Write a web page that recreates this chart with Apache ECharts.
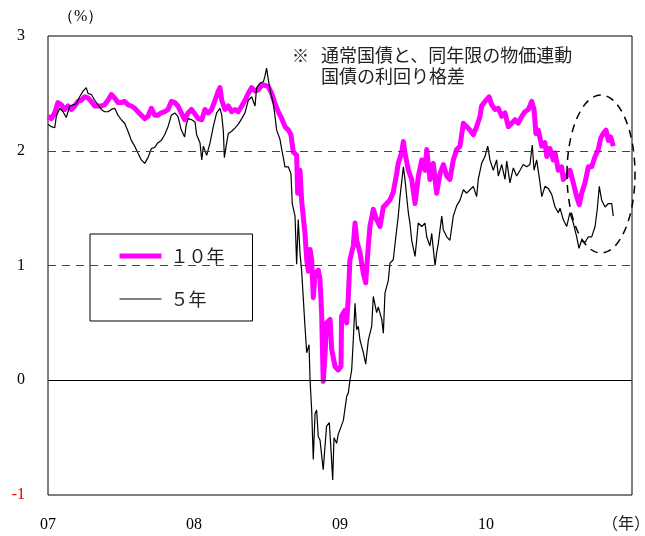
<!DOCTYPE html>
<html>
<head>
<meta charset="utf-8">
<script src="https://cdn.jsdelivr.net/npm/echarts@6/dist/echarts.min.js"></script>
<style>html,body{margin:0;padding:0;background:#fff}#c{width:645px;height:536px}</style>
</head>
<body>
<div id="c"></div>
<script>
// x values are fractional years (2007.0 = start of 2007)
const seriesNames = ['１０年', '５年'];
const yearLabels = ['07', '08', '09', '10'];

const t10 = [2007.000,2007.023,2007.046,2007.068,2007.091,2007.114,2007.137,2007.160,2007.183,2007.205,2007.228,2007.251,2007.274,2007.297,2007.320,2007.342,2007.365,2007.388,2007.411,2007.434,2007.457,2007.479,2007.502,2007.525,2007.548,2007.571,2007.594,2007.616,2007.639,2007.662,2007.685,2007.708,2007.731,2007.753,2007.776,2007.799,2007.822,2007.845,2007.868,2007.890,2007.913,2007.936,2007.959,2007.982,
2007.995,2008.029,2008.053,2008.075,2008.098,2008.121,2008.144,2008.166,2008.178,2008.190,2008.212,2008.235,2008.258,2008.281,2008.303,2008.327,2008.349,2008.372,2008.395,2008.418,2008.440,2008.464,2008.486,2008.509,2008.532,2008.555,2008.577,2008.601,2008.623,2008.646,2008.664,2008.680,2008.703,2008.710,2008.726,2008.737,2008.748,2008.760,2008.772,2008.783,2008.795,2008.806,2008.817,2008.829,2008.851,2008.863,2008.874,2008.885,2008.897,2008.908,2008.932,2008.943,2008.966,2008.988,
2009.007,2009.011,2009.034,2009.046,2009.057,2009.068,2009.091,2009.103,2009.114,2009.137,2009.160,2009.176,2009.194,2009.205,2009.228,2009.251,2009.274,2009.297,2009.320,2009.342,2009.365,2009.388,2009.399,2009.423,2009.434,2009.445,2009.468,2009.491,2009.514,2009.537,2009.560,2009.582,2009.594,2009.616,2009.639,2009.662,2009.685,2009.708,2009.731,2009.753,2009.776,2009.799,2009.822,2009.845,2009.868,2009.890,2009.913,2009.936,2009.959,2009.970,2009.993,
2010.005,2010.021,2010.039,2010.062,2010.084,2010.108,2010.130,2010.153,2010.176,2010.199,2010.221,2010.245,2010.267,2010.290,2010.313,2010.329,2010.342,2010.358,2010.382,2010.404,2010.416,2010.438,2010.461,2010.473,2010.495,2010.518,2010.529,2010.553,2010.575,2010.598,2010.621,2010.639,2010.655,2010.678,2010.701,2010.724,2010.747,2010.769,2010.786,2010.803,2010.822,2010.838,2010.854,2010.872];
const v10 = [2.30,2.28,2.33,2.42,2.40,2.36,2.39,2.36,2.39,2.43,2.44,2.47,2.46,2.43,2.39,2.39,2.39,2.40,2.44,2.49,2.46,2.42,2.42,2.43,2.40,2.39,2.37,2.34,2.31,2.28,2.30,2.37,2.31,2.31,2.33,2.34,2.36,2.43,2.42,2.39,2.33,2.27,2.33,2.36,
2.34,2.28,2.27,2.36,2.33,2.36,2.44,2.52,2.55,2.44,2.36,2.39,2.34,2.36,2.34,2.39,2.44,2.50,2.55,2.52,2.53,2.57,2.57,2.56,2.50,2.41,2.34,2.28,2.21,2.18,2.14,1.99,1.96,1.63,1.83,1.57,1.43,1.28,1.05,0.95,1.14,1.05,0.72,0.93,0.96,0.88,0.59,-0.01,0.21,0.50,0.53,0.27,0.12,0.09,
0.12,0.56,0.61,0.50,0.73,1.05,1.17,1.37,1.22,1.11,0.93,0.85,1.17,1.34,1.49,1.40,1.34,1.51,1.54,1.57,1.64,1.80,1.89,1.99,2.08,1.98,1.83,1.75,1.54,1.78,1.92,1.83,2.01,1.75,1.89,1.63,1.80,1.88,1.78,1.75,1.92,2.01,2.04,2.24,2.21,2.18,2.14,2.21,2.30,2.39,2.43,
2.44,2.47,2.40,2.36,2.37,2.30,2.33,2.21,2.24,2.27,2.24,2.30,2.34,2.36,2.43,2.36,2.15,2.18,2.04,2.07,1.95,2.02,1.92,1.98,1.83,1.86,1.75,1.78,1.83,1.72,1.60,1.53,1.63,1.72,1.86,1.86,1.95,2.01,2.11,2.15,2.18,2.09,2.12,2.04];

const t5 = [2007.000,2007.023,2007.046,2007.057,2007.080,2007.103,2007.125,2007.149,2007.171,2007.194,2007.217,2007.240,2007.262,2007.274,2007.297,2007.320,2007.342,2007.365,2007.388,2007.411,2007.434,2007.457,2007.479,2007.502,2007.525,2007.548,2007.571,2007.594,2007.616,2007.639,2007.662,2007.685,2007.708,2007.731,2007.753,2007.776,2007.799,2007.822,2007.845,2007.868,2007.890,2007.913,2007.936,2007.947,2007.961,2007.984,
2008.007,2008.018,2008.041,2008.053,2008.064,2008.087,2008.110,2008.132,2008.155,2008.178,2008.190,2008.201,2008.208,2008.224,2008.235,2008.258,2008.281,2008.303,2008.327,2008.349,2008.372,2008.395,2008.418,2008.429,2008.452,2008.475,2008.486,2008.497,2008.509,2008.521,2008.543,2008.555,2008.566,2008.589,2008.601,2008.612,2008.623,2008.646,2008.664,2008.673,2008.692,2008.703,2008.714,2008.726,2008.737,2008.760,2008.772,2008.788,2008.795,2008.806,2008.817,2008.829,2008.840,2008.851,2008.863,2008.874,2008.885,2008.908,2008.927,2008.938,2008.950,2008.959,2008.966,2008.977,2008.988,
2009.000,2009.023,2009.046,2009.057,2009.068,2009.080,2009.091,2009.103,2009.114,2009.125,2009.137,2009.160,2009.176,2009.194,2009.217,2009.228,2009.251,2009.262,2009.286,2009.297,2009.308,2009.331,2009.342,2009.365,2009.377,2009.399,2009.411,2009.434,2009.445,2009.468,2009.479,2009.491,2009.514,2009.525,2009.536,2009.560,2009.582,2009.594,2009.616,2009.628,2009.651,2009.662,2009.673,2009.697,2009.708,2009.731,2009.753,2009.776,2009.799,2009.822,2009.845,2009.868,2009.890,2009.913,2009.936,2009.947,2009.970,2009.993,
2010.012,2010.027,2010.050,2010.073,2010.084,2010.108,2010.130,2010.142,2010.164,2010.187,2010.210,2010.233,2010.255,2010.279,2010.301,2010.317,2010.329,2010.347,2010.370,2010.382,2010.404,2010.427,2010.450,2010.473,2010.495,2010.507,2010.529,2010.553,2010.575,2010.598,2010.621,2010.637,2010.655,2010.678,2010.701,2010.724,2010.747,2010.762,2010.776,2010.792,2010.815,2010.838,2010.861,2010.872];
const v5 = [2.23,2.21,2.20,2.30,2.37,2.34,2.29,2.39,2.40,2.41,2.47,2.52,2.55,2.50,2.49,2.44,2.40,2.36,2.34,2.34,2.36,2.37,2.31,2.27,2.24,2.17,2.09,2.04,1.98,1.92,1.89,1.94,2.02,2.03,2.07,2.09,2.14,2.21,2.31,2.33,2.30,2.18,2.12,2.23,2.28,2.27,
2.25,2.14,2.07,1.92,2.04,1.96,2.07,2.21,2.33,2.37,2.31,2.17,1.94,2.07,2.15,2.17,2.20,2.23,2.28,2.33,2.44,2.47,2.39,2.55,2.59,2.60,2.65,2.72,2.62,2.53,2.41,2.30,2.18,2.10,2.01,1.94,1.86,1.86,1.80,1.54,1.43,1.01,1.40,1.11,0.96,0.47,0.24,0.31,0.00,-0.26,-0.69,-0.29,-0.26,-0.49,-0.52,-0.52,-0.78,-0.40,-0.37,-0.60,-0.87,-0.50,-0.49,-0.55,-0.47,
-0.43,-0.35,-0.14,-0.11,0.00,0.09,0.35,0.67,0.44,0.47,0.35,0.24,0.14,0.35,0.47,0.73,0.59,0.64,0.53,0.41,0.76,0.87,1.02,1.05,1.19,1.43,1.60,1.86,1.75,1.46,1.37,1.22,1.08,1.22,1.37,1.34,1.37,1.25,1.17,1.28,1.00,1.11,1.19,1.43,1.31,1.25,1.22,1.43,1.52,1.57,1.66,1.63,1.66,1.69,1.60,1.75,1.89,1.95,
2.04,1.92,1.83,1.92,1.78,1.88,1.75,1.91,1.72,1.85,1.78,1.83,1.88,1.86,1.88,2.05,1.83,1.92,1.72,1.60,1.69,1.67,1.62,1.51,1.46,1.50,1.40,1.34,1.46,1.37,1.25,1.15,1.22,1.20,1.25,1.25,1.34,1.49,1.69,1.57,1.51,1.54,1.54,1.43];

const pair = (ts, vs) => ts.map((t, i) => [t, vs[i]]);
const serif = '"Liberation Serif", "Times New Roman", serif';
const jp = '"Noto Sans CJK JP", sans-serif';

const chart = echarts.init(document.getElementById('c'), null, {renderer: 'canvas'});
chart.setOption({
  animation: false,
  backgroundColor: '#fff',
  grid: {left: 48, right: 13, top: 36, bottom: 41, show: true, borderColor: '#000', borderWidth: 1, backgroundColor: 'transparent', containLabel: false, outerBoundsMode: 'none'},
  legend: {
    data: [
      {name: seriesNames[0], lineStyle: {width: 5, color: '#ff00ff'}},
      {name: seriesNames[1], lineStyle: {width: 1.2, color: '#000'}}
    ],
    orient: 'vertical', left: 90, top: 234,
    padding: [13, 28, 13, 27],
    itemWidth: 42, itemHeight: 14, itemGap: 25,
    borderColor: '#000', borderWidth: 1, backgroundColor: '#fff',
    itemStyle: {opacity: 0},
    textStyle: {fontFamily: jp, fontSize: 18, color: '#222', padding: [0, 0, 0, 4]}
  },
  xAxis: {
    type: 'value', min: 2007, max: 2011, interval: 1,
    axisLine: {show: false}, axisTick: {show: false}, splitLine: {show: false},
    axisLabel: {
      margin: 22, fontFamily: serif, fontSize: 16, color: '#000',
      formatter: v => (v < 2011 ? yearLabels[v - 2007] : '')
    }
  },
  yAxis: {
    type: 'value', min: -1, max: 3, interval: 1,
    axisLine: {show: false}, axisTick: {show: false}, splitLine: {show: false},
    axisLabel: {
      margin: 23, fontFamily: serif, fontSize: 16,
      color: v => (Number(v) === -1 ? '#e00000' : '#000')
    }
  },
  series: [
    {
      name: 'ref', type: 'line', data: [], silent: true,
      markLine: {
        silent: true, symbol: 'none', label: {show: false},
        data: [
          {yAxis: 2, lineStyle: {type: [8, 6], color: '#444', width: 1}},
          {yAxis: 1, lineStyle: {type: [8, 6], color: '#444', width: 1}},
          {yAxis: 0, lineStyle: {type: 'solid', color: '#000', width: 1}}
        ]
      }
    },
    {
      name: seriesNames[0], type: 'line', data: pair(t10, v10), showSymbol: false, symbol: 'none',
      lineStyle: {color: '#ff00ff', width: 5, join: 'round'}, itemStyle: {color: '#ff00ff'}
    },
    {
      name: seriesNames[1], type: 'line', data: pair(t5, v5), showSymbol: false, symbol: 'none',
      lineStyle: {color: '#000', width: 1.2}, itemStyle: {color: '#000'}
    }
  ],
  graphic: [
    {type: 'text', left: 58, top: 9, style: {text: '（%）', font: '16px ' + serif, fill: '#000'}},
    {type: 'text', left: 602, top: 515, style: {text: '（年）', font: '16px ' + jp, fill: '#222'}},
    {type: 'text', left: 292, top: 47, style: {text: '※', font: '17px ' + jp, fill: '#222'}},
    {type: 'text', left: 321, top: 46, style: {text: '通常国債と、同年限の物価連動', font: '18px ' + jp, fill: '#222'}},
    {type: 'text', left: 321, top: 67, style: {text: '国債の利回り格差', font: '18px ' + jp, fill: '#222'}},
    {type: 'ellipse', shape: {cx: 601, cy: 174, rx: 34, ry: 79}, style: {fill: 'none', stroke: '#000', lineWidth: 1.5, lineDash: [8, 6]}, z: 10}
  ]
});
</script>
</body>
</html>
